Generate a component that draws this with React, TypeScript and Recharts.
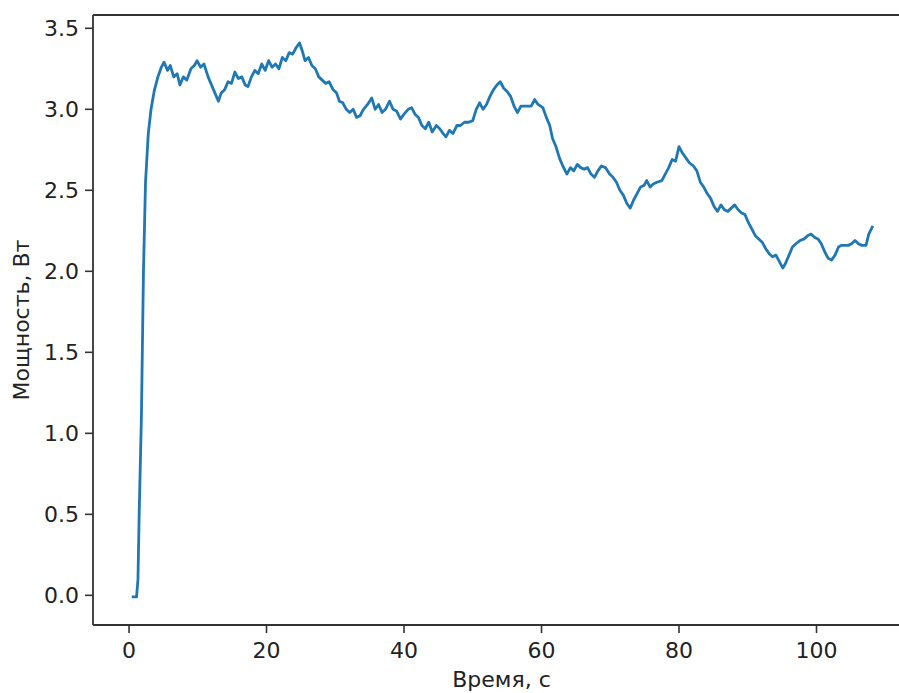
import { LineChart, Line, XAxis, YAxis, Label } from "recharts";

// time, s
const time = [
  0.4, 1.1, 1.3, 1.5, 1.8, 2.1, 2.4, 2.8, 3.2, 3.7,
  4.2, 4.7, 5.1, 5.6, 6.0, 6.5, 7.0, 7.4, 7.9, 8.4,
  9.0, 9.5, 9.9, 10.4, 10.9, 11.5, 12.0, 12.5, 13.0, 13.4,
  13.9, 14.4, 14.9, 15.4, 15.9, 16.4, 16.9, 17.3, 17.8, 18.3,
  18.8, 19.3, 19.8, 20.3, 20.8, 21.3, 21.8, 22.3, 22.8, 23.3,
  23.8, 24.3, 24.8, 25.2, 25.6, 26.1, 26.6, 27.1, 27.6, 28.1,
  28.6, 29.1, 29.7, 30.2, 30.6, 31.1, 31.6, 32.1, 32.6, 33.1,
  33.6, 34.1, 34.7, 35.3, 35.8, 36.3, 36.8, 37.3, 37.9, 38.4,
  38.9, 39.5, 40.0, 40.6, 41.1, 41.6, 42.1, 42.6, 43.1, 43.6,
  44.1, 44.7, 45.2, 45.7, 46.1, 46.6, 47.1, 47.7, 48.2, 48.8,
  49.4, 50.0, 50.5, 51.0, 51.5, 52.0, 52.5, 53.0, 53.5, 54.0,
  54.5, 55.0, 55.5, 56.0, 56.5, 57.0, 57.8, 58.5, 59.0, 59.5,
  60.2, 60.7, 61.2, 61.6, 62.1, 62.6, 63.1, 63.7, 64.2, 64.7,
  65.2, 65.7, 66.2, 66.7, 67.2, 67.7, 68.2, 68.7, 69.3, 69.9,
  70.4, 70.9, 71.4, 71.9, 72.4, 72.9, 73.4, 73.9, 74.4, 74.9,
  75.3, 75.8, 76.3, 76.8, 77.5, 78.0, 78.5, 79.0, 79.5, 80.0,
  80.5, 81.0, 81.5, 82.1, 82.6, 83.1, 83.6, 84.1, 84.6, 85.1,
  85.6, 86.1, 86.6, 87.1, 87.6, 88.1, 88.6, 89.1, 89.6, 90.1,
  90.6, 91.1, 91.6, 92.1, 92.6, 93.1, 93.6, 94.1, 94.6, 95.1,
  95.5, 96.0, 96.5, 97.0, 97.6, 98.2, 98.7, 99.2, 99.7, 100.2,
  100.7, 101.2, 101.7, 102.2, 102.7, 103.2, 103.6, 104.1, 104.6, 105.1,
  105.6, 106.1, 106.6, 107.2, 107.6, 108.2,
];

// power, W
const power = [
  -0.01, -0.01, 0.1, 0.55, 1.1, 2.0, 2.55, 2.85, 3.0, 3.12,
  3.2, 3.26, 3.29, 3.24, 3.27, 3.2, 3.22, 3.15, 3.2, 3.18,
  3.25, 3.27, 3.3, 3.26, 3.28, 3.2, 3.15, 3.1, 3.05, 3.1,
  3.12, 3.17, 3.16, 3.23, 3.19, 3.2, 3.15, 3.14, 3.2, 3.24,
  3.22, 3.28, 3.24, 3.3, 3.26, 3.28, 3.25, 3.32, 3.3, 3.35,
  3.34, 3.38, 3.41, 3.36, 3.3, 3.32, 3.27, 3.25, 3.2, 3.18,
  3.16, 3.17, 3.12, 3.1, 3.05, 3.04, 3.0, 2.98, 3.0, 2.95,
  2.96, 3.0, 3.03, 3.07, 3.0, 3.03, 2.98, 3.0, 3.05, 3.0,
  2.99, 2.94, 2.97, 3.0, 3.01, 2.97, 2.95, 2.9, 2.88, 2.92,
  2.86, 2.9, 2.88, 2.85, 2.83, 2.87, 2.85, 2.9, 2.9, 2.92,
  2.92, 2.93, 3.0, 3.04, 3.0, 3.03, 3.08, 3.12, 3.15, 3.17,
  3.13, 3.11, 3.08, 3.02, 2.98, 3.02, 3.02, 3.02, 3.06, 3.03,
  3.01, 2.95, 2.9, 2.82, 2.77, 2.7, 2.65, 2.6, 2.64, 2.62,
  2.66, 2.64, 2.63, 2.64, 2.6, 2.58, 2.62, 2.65, 2.64, 2.6,
  2.58, 2.55, 2.5, 2.47, 2.42, 2.39, 2.44, 2.48, 2.52, 2.53,
  2.56, 2.52, 2.54, 2.55, 2.56, 2.6, 2.64, 2.69, 2.68, 2.77,
  2.73, 2.7, 2.67, 2.65, 2.62, 2.55, 2.52, 2.48, 2.45, 2.4,
  2.37, 2.41, 2.38, 2.37, 2.39, 2.41, 2.38, 2.36, 2.35, 2.3,
  2.26, 2.22, 2.2, 2.18, 2.14, 2.11, 2.09, 2.1, 2.06, 2.02,
  2.05, 2.1, 2.15, 2.17, 2.19, 2.2, 2.22, 2.23, 2.21, 2.2,
  2.17, 2.12, 2.08, 2.07, 2.1, 2.15, 2.16, 2.16, 2.16, 2.17,
  2.19, 2.17, 2.16, 2.16, 2.23, 2.28,
];

const xTicks = [0, 20, 40, 60, 80, 100];
const yTicks = [0, 0.5, 1, 1.5, 2, 2.5, 3, 3.5];

const data = time.map((t, i) => ({ t, p: power[i] }));

const font = "'DejaVu Sans', sans-serif";
const ink = "#222";
const spine = "#333";
const fs = 22;
const tickStyle = { fontSize: fs, fill: ink, fontFamily: font };

const YTitle = (props: any) => {
  const vb = props.viewBox || { x: 0, y: 0, width: 0, height: 0 };
  const cx = vb.x + 21;
  const cy = vb.y + vb.height / 2;
  return (
    <text
      x={cx}
      y={cy}
      transform={`rotate(-90 ${cx} ${cy})`}
      textAnchor="middle"
      dominantBaseline="central"
      fontSize={fs}
      fontFamily={font}
      fill={ink}
    >
      Мощность, Вт
    </text>
  );
};

export default function App() {
  return (
    <div
      style={{
        position: "absolute",
        left: 0,
        top: 0,
        width: 899,
        height: 693,
        overflow: "hidden",
        background: "#fff",
      }}
    >
      <LineChart
        width={920}
        height={693}
        data={data}
        margin={{ top: 14, right: 10, bottom: 0, left: 0 }}
      >
        <XAxis
          dataKey="t"
          type="number"
          domain={[-5.24, 113.6]}
          ticks={xTicks}
          allowDataOverflow
          height={68}
          tickSize={8}
          tickMargin={9}
          tick={tickStyle}
          axisLine={{ stroke: spine, strokeWidth: 1.8 }}
          tickLine={{ stroke: spine, strokeWidth: 1.6 }}
        >
          <Label
            value="Время, с"
            position="insideBottom"
            offset={6}
            style={{ fontSize: fs, fill: ink, fontFamily: font }}
          />
        </XAxis>
        <XAxis
          xAxisId="top"
          dataKey="t"
          type="number"
          orientation="top"
          domain={[-5.24, 113.6]}
          allowDataOverflow
          height={1}
          tick={false}
          tickLine={false}
          axisLine={{ stroke: spine, strokeWidth: 1.8 }}
        />
        <YAxis
          type="number"
          domain={[-0.183, 3.582]}
          ticks={yTicks}
          allowDataOverflow
          width={93}
          tickSize={8}
          tickMargin={6}
          tick={tickStyle}
          tickFormatter={(v: number) => v.toFixed(1)}
          axisLine={{ stroke: spine, strokeWidth: 1.8 }}
          tickLine={{ stroke: spine, strokeWidth: 1.6 }}
        >
          <Label content={YTitle} />
        </YAxis>
        <Line
          dataKey="p"
          type="linear"
          stroke="#1f77b4"
          strokeWidth={2.8}
          strokeLinejoin="round"
          dot={false}
          isAnimationActive={false}
        />
      </LineChart>
    </div>
  );
}
